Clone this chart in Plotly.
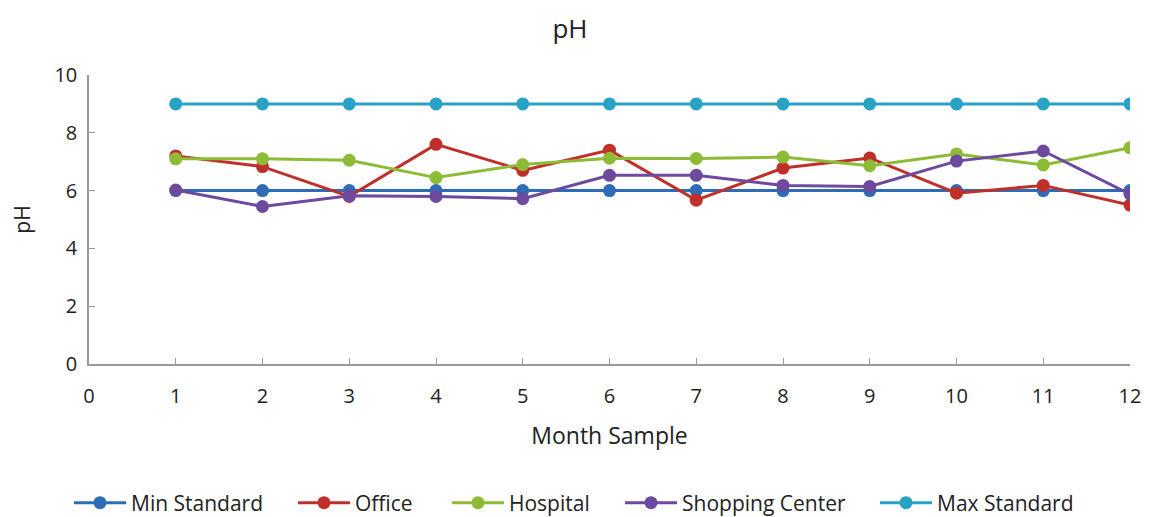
import plotly.graph_objects as go

months = [1, 2, 3, 4, 5, 6, 7, 8, 9, 10, 11, 12]
min_standard = [6] * 12
office = [7.2, 6.83, 5.8, 7.6, 6.7, 7.4, 5.67, 6.78, 7.13, 5.91, 6.18, 5.5]
hospital = [7.1, 7.1, 7.05, 6.45, 6.9, 7.12, 7.11, 7.16, 6.86, 7.27, 6.89, 7.48]
shopping = [6.02, 5.45, 5.82, 5.8, 5.72, 6.53, 6.53, 6.18, 6.14, 7.02, 7.37, 5.88]
max_standard = [9] * 12

names = ["Min Standard", "Office", "Hospital", "Shopping Center", "Max Standard"]
values = [min_standard, office, hospital, shopping, max_standard]
colors = ["#2E6DB5", "#C0302B", "#8DBB35", "#6E4A9E", "#28A2C5"]
legend_ids = ["legend", "legend2", "legend3", "legend4", "legend5"]
legend_starts = [74, 298, 452, 625, 880]  # screen px of each legend entry

W, H, OFF = 1143, 509, 8

fig = go.Figure()
for name, vals, col, lid in zip(names, values, colors, legend_ids):
    fig.add_trace(go.Scatter(
        x=months, y=vals, name=name, mode="lines+markers",
        line=dict(color=col, width=3),
        marker=dict(color=col, size=13),
        legend=lid,
    ))

font_family = "Open Sans, Lato, sans-serif"
legend_cfg = {}
for lid, sx in zip(legend_ids, legend_starts):
    legend_cfg[lid] = dict(
        orientation="h", xref="container", yref="container",
        x=(sx - OFF - 5) / W, xanchor="left",
        y=1 - (503 - OFF) / H, yanchor="middle",
        font=dict(size=21), itemwidth=52, bgcolor="rgba(0,0,0,0)",
    )

fig.update_layout(
    width=W, height=H,
    margin=dict(l=81, r=21, t=67, b=153),
    paper_bgcolor="white", plot_bgcolor="white",
    font=dict(family=font_family, size=20, color="#222"),
    title=dict(text="pH", xref="container", x=(570 - OFF) / W, xanchor="center",
               yref="container", y=1 - (29 - OFF) / H, yanchor="middle",
               font=dict(size=26, color="#222")),
    showlegend=True,
    **legend_cfg,
)
fig.update_xaxes(
    range=[0, 12], dtick=1, tick0=0, showgrid=False, zeroline=False, automargin=False,
    showline=True, linecolor="#999", linewidth=1.5,
    ticks="inside", ticklen=6, tickcolor="#999", ticklabelstandoff=13,
    title=dict(text="Month Sample", font=dict(size=23), standoff=20),
)
fig.update_yaxes(
    range=[0, 10], dtick=2, tick0=0, showgrid=False, zeroline=False, automargin=False,
    showline=True, linecolor="#999", linewidth=1.5,
    ticks="inside", ticklen=6, tickcolor="#999", ticklabelstandoff=6,
    title=dict(text="pH", font=dict(size=21), standoff=27),
)

fig.write_html("out.html")
